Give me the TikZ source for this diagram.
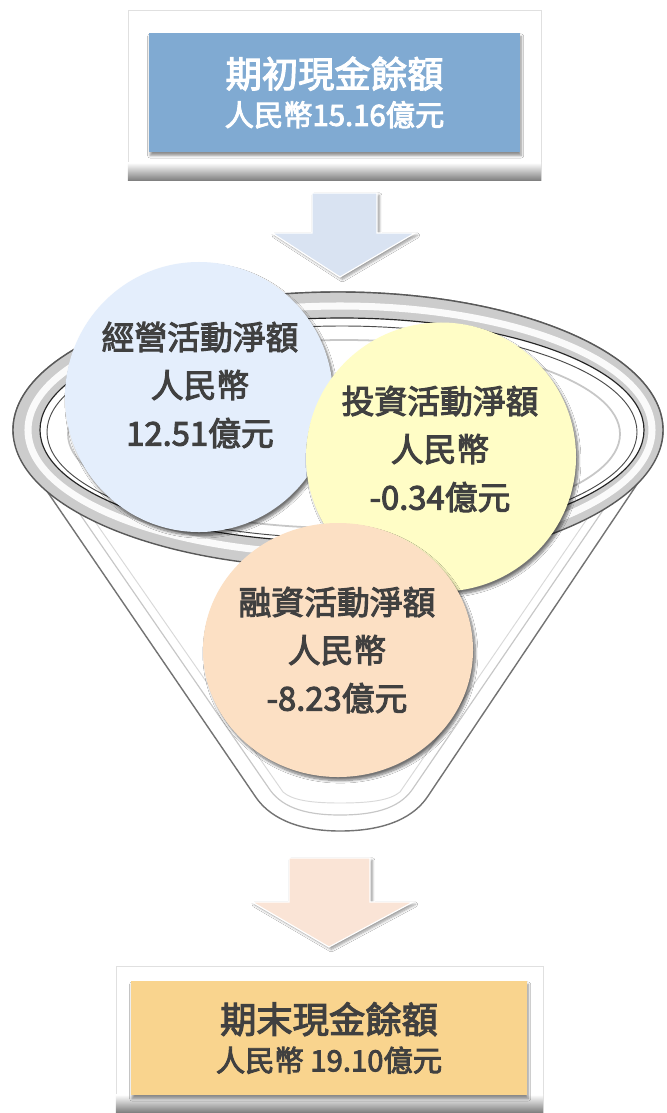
\documentclass[tikz,border=0pt]{standalone}
\usepackage{fontspec}
\setmainfont{Noto Sans CJK TC}[BoldFont=Noto Sans CJK TC, BoldFeatures={FakeBold=3}]
\usepackage{tikz}
\usetikzlibrary{shapes.geometric,shadows.blur}

\definecolor{startblue}{RGB}{128,170,210}
\definecolor{endgold}{RGB}{249,212,142}
\definecolor{arrowblue}{RGB}{217,227,242}
\definecolor{arrowpeach}{RGB}{250,228,214}
\definecolor{opblue}{RGB}{228,238,252}
\definecolor{invyellow}{RGB}{255,253,198}
\definecolor{finpeach}{RGB}{252,224,196}
\definecolor{txtgray}{RGB}{64,64,64}

\tikzset{
  panel/.style={fill=white, draw=black!12, inner sep=0pt},
  cashbox/.style={inner sep=0pt, align=center, font=\bfseries,
    blur shadow={shadow xshift=1pt, shadow yshift=-3pt, shadow opacity=45, shadow blur steps=6}},
  flowarrow/.style={draw=white, line width=1pt,
    blur shadow={shadow xshift=2pt, shadow yshift=-2pt, shadow opacity=40, shadow blur steps=6}},
  disc/.style={ellipse, inner sep=0pt, draw=none,
    blur shadow={shadow xshift=2pt, shadow yshift=-3pt, shadow opacity=55, shadow blur steps=8}},
  disctext/.style={align=center, text=txtgray, font=\bfseries\fontsize{28}{41}\selectfont},
}

\begin{document}
\begin{tikzpicture}[x=0.03cm, y=-0.03cm]
  \useasboundingbox[fill=white] (0,0) rectangle (666,1113);

  % opening balance
  \node[panel, minimum width=12.39cm, minimum height=5.1cm] (toppanel) at (334.5,95) {};
  \shade[top color=white, bottom color=black!50] ([yshift=15pt]toppanel.south west) rectangle (toppanel.south east);
  \node[cashbox, fill=startblue, text=white, minimum width=11.13cm, minimum height=3.57cm] (start) at (334.5,92.5)
    {{\fontsize{31}{32}\selectfont 期初現金餘額}\\[8pt]{\fontsize{25}{32}\selectfont 人民幣15.16億元}};

  \draw[flowarrow, fill=arrowblue] (312,193) -- (377,193) -- (377,233) -- (415,233) -- (340,277)
    -- (272,233) -- (312,233) -- cycle;

  % funnel body
  \draw[fill=white, draw=black!55, line width=1.2pt]
    (13,430) .. controls (13,440) and (16,448) .. (23,456) -- (255,796)
    .. controls (268,816) and (295,831) .. (340,831) .. controls (388,831) and (415,816) .. (428,796)
    -- (656,456) .. controls (661,448) and (663,440) .. (663,430)
    arc[start angle=0, end angle=-180, x radius=325, y radius=138] -- cycle;
  \draw[black!22, line width=1pt]
    (44,462) -- (268,787) .. controls (280,806) and (302,815) .. (340,815)
    .. controls (380,815) and (402,806) .. (414,787) -- (636,462);
  \draw[black!15, line width=0.8pt]
    (80,500) -- (283,792) .. controls (292,800) and (310,803) .. (340,803)
    .. controls (372,803) and (390,800) .. (400,792) -- (600,500);
  \draw[black!15, line width=0.6pt] (344,470) ellipse [x radius=262, y radius=85];

  % funnel rim
  \fill[black!20] (338,430) ellipse [x radius=325, y radius=138];
  \draw[white, line width=6pt, opacity=0.9] (340,430) ellipse [x radius=312, y radius=124];
  \draw[black!65, line width=1.2pt] (338,430) ellipse [x radius=325, y radius=138];
  \fill[white] (342,430) ellipse [x radius=302, y radius=112];
  \draw[black!85, line width=1pt] (342,430) ellipse [x radius=302, y radius=112];
  \draw[black!70, line width=0.8pt] (342,432) ellipse [x radius=295, y radius=106];
  \draw[black!22, line width=1.5pt] (344,434) ellipse [x radius=276, y radius=94];

  % the three activities
  \node[disc, fill=opblue, minimum width=8.04cm, minimum height=8.1cm] (operating) at (199,397) {};
  \node[disctext] (operatingtext) at (200,385) {經營活動淨額\\人民幣\\12.51億元};
  \node[disc, fill=invyellow, minimum width=8.1cm, minimum height=8.07cm] (investing) at (441,457) {};
  \node[disctext] (investingtext) at (440,449) {投資活動淨額\\人民幣\\-0.34億元};
  \node[disc, fill=finpeach, minimum width=8.1cm, minimum height=7.62cm] (financing) at (338,650) {};
  \node[disctext] (financingtext) at (337,650) {融資活動淨額\\人民幣\\-8.23億元};

  \draw[flowarrow, fill=arrowpeach] (289,858) -- (370,858) -- (370,902) -- (413,902) -- (329,947)
    -- (252,902) -- (289,902) -- cycle;

  % closing balance
  \node[panel, minimum width=12.81cm, minimum height=4.38cm] (endpanel) at (329.5,1039) {};
  \shade[top color=white, bottom color=black!50] ([yshift=15pt]endpanel.south west) rectangle (endpanel.south east);
  \node[cashbox, fill=endgold, text=txtgray, minimum width=11.88cm, minimum height=3.42cm] (end) at (329,1038)
    {{\fontsize{31}{32}\selectfont 期末現金餘額}\\[8pt]{\fontsize{25}{32}\selectfont 人民幣 19.10億元}};
\end{tikzpicture}
\end{document}
